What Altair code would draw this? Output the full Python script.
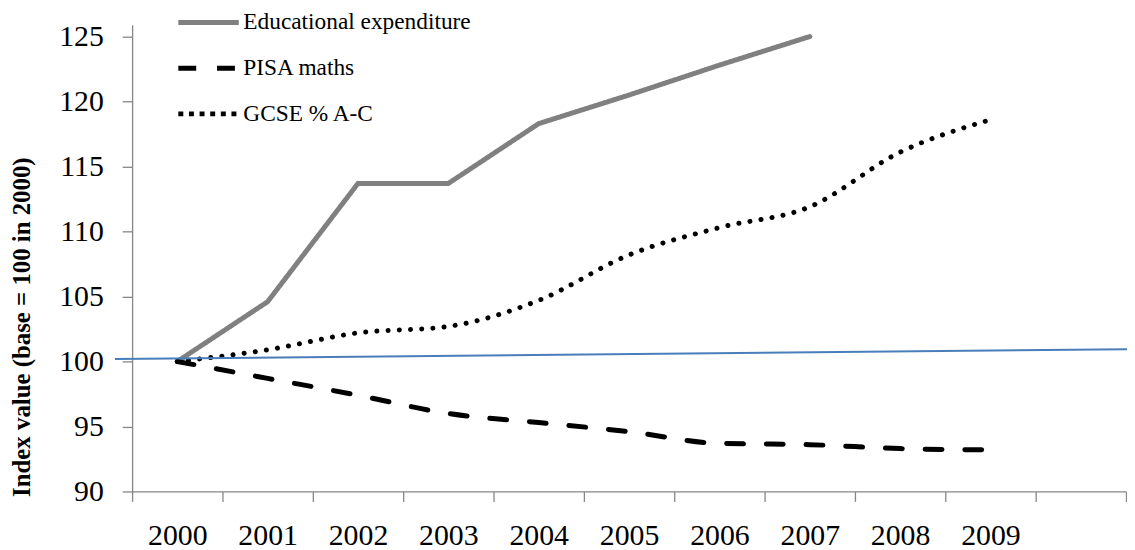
import altair as alt
import pandas as pd

# ---- data ----
YEARS = [2000, 2001, 2002, 2003, 2004, 2005, 2006, 2007, 2008, 2009]
EXPENDITURE = [100.0, 104.6, 113.7, 113.7, 118.3, 120.5, 122.8, 125.0, None, None]
PISA = [100.0, 98.7, 97.4, 96.0, 95.3, 94.6, 93.7, 93.6, 93.3, 93.2]
GCSE = [100.0, 100.9, 102.2, 102.7, 104.7, 108.2, 110.3, 111.9, 116.1, 118.6]

SERIES = ["Educational expenditure", "PISA maths", "GCSE % A-C"]
SERIES_COLORS = ["#808080", "#000000", "#000000"]

REF_X = [1999.31, 2010.52]
REF_Y = [100.19, 100.94]

Y_TICKS = [90, 95, 100, 105, 110, 115, 120, 125]
X_BOUNDS = [1999.5 + i for i in range(12)]

rows = []
for name, vals in zip(SERIES, [EXPENDITURE, PISA, GCSE]):
    for yr, v in zip(YEARS, vals):
        if v is not None:
            rows.append({"year": yr, "value": v, "series": name})
df = pd.DataFrame(rows)
ref_df = pd.DataFrame({"year": REF_X, "value": REF_Y})

FONT = "Liberation Serif"

x_enc = alt.X(
    "year:Q",
    scale=alt.Scale(domain=[1999.5, 2010.5], nice=False, zero=False),
    axis=alt.Axis(
        values=X_BOUNDS,
        labelExpr="datum.value < 2009 ? format(datum.value + 0.5, 'd') : ''",
        labelOffset=45.5,
        labelFlush=False,
        labelOverlap=False,
        labelPadding=19,
        title=None,
    ),
)
y_enc = alt.Y(
    "value:Q",
    scale=alt.Scale(domain=[90, 125.9], nice=False, zero=False),
    axis=alt.Axis(
        values=Y_TICKS,
        format="d",
        labelFlush=False,
        labelOverlap=False,
        labelPadding=19,
        title="Index value (base = 100 in 2000)",
        titleFont=FONT,
        titleFontSize=25,
        titleFontWeight="bold",
        titleColor="black",
        titleAngle=270,
        titleAlign="center",
        titleBaseline="middle",
        titleX=-111,
        titleY=304,
    ),
)

# scales used by the drawn lines (round caps)
color_a = alt.Color("series:N", scale=alt.Scale(domain=SERIES, range=SERIES_COLORS), legend=None)
dash_a = alt.StrokeDash(
    "series:N",
    scale=alt.Scale(domain=SERIES, range=[[1, 0], [17, 23], [0.1, 11.2]]),
    legend=None,
)

base = alt.Chart(df).encode(x=x_enc, y=y_enc, color=color_a, strokeDash=dash_a)
exp_line = base.transform_filter(
    alt.FieldOneOfPredicate(field="series", oneOf=[SERIES[0]])
).mark_line(strokeWidth=5, strokeCap="round", strokeJoin="miter")
other_lines = base.transform_filter(
    alt.FieldOneOfPredicate(field="series", oneOf=SERIES[1:])
).mark_line(strokeWidth=5, strokeCap="round", interpolate="monotone")
lines = alt.layer(exp_line, other_lines)

# legend-only layer (butt caps on legend symbols, so its own dash pattern)
leg = alt.Legend(
    orient="none",
    legendX=53.5,
    legendY=-25.8,
    title=None,
    symbolType="M-1.45,0L1.45,0",
    symbolSize=1764,
    symbolStrokeWidth=5,
    labelFont=FONT,
    labelFontSize=23.5,
    labelColor="black",
    labelOffset=11.5,
    labelLimit=400,
    rowPadding=11,
    padding=0,
)
legend_layer = (
    alt.Chart(df)
    .transform_filter("false")
    .mark_line(strokeWidth=5)
    .encode(
        x=x_enc,
        y=y_enc,
        color=alt.Color("series:N", scale=alt.Scale(domain=SERIES, range=SERIES_COLORS), legend=leg),
        strokeDash=alt.StrokeDash(
            "series:N",
            scale=alt.Scale(domain=SERIES, range=[[1, 0], [18, 21], [5, 5.7]]),
            legend=leg,
        ),
    )
)

ref_line = alt.Chart(ref_df).mark_line(color="#4a7ebb", strokeWidth=2, clip=False).encode(
    x=x_enc, y=y_enc
)

chart = (
    alt.layer(lines, legend_layer, ref_line)
    .resolve_scale(color="independent", strokeDash="independent")
    .properties(
        width=1001,
        height=470,
        autosize=alt.AutoSizeParams(type="none"),
        padding={"left": 125, "top": 15, "right": 1, "bottom": 57},
        background="white",
    )
    .configure_view(stroke=None)
    .configure_axis(
        domainColor="#868686",
        tickColor="#868686",
        domainWidth=1.3,
        tickWidth=1.3,
        tickSize=10,
        grid=False,
        labelFont=FONT,
        labelFontSize=30,
        labelColor="black",
    )
)

chart.save("out.html", embed_options={"renderer": "svg", "actions": False})
